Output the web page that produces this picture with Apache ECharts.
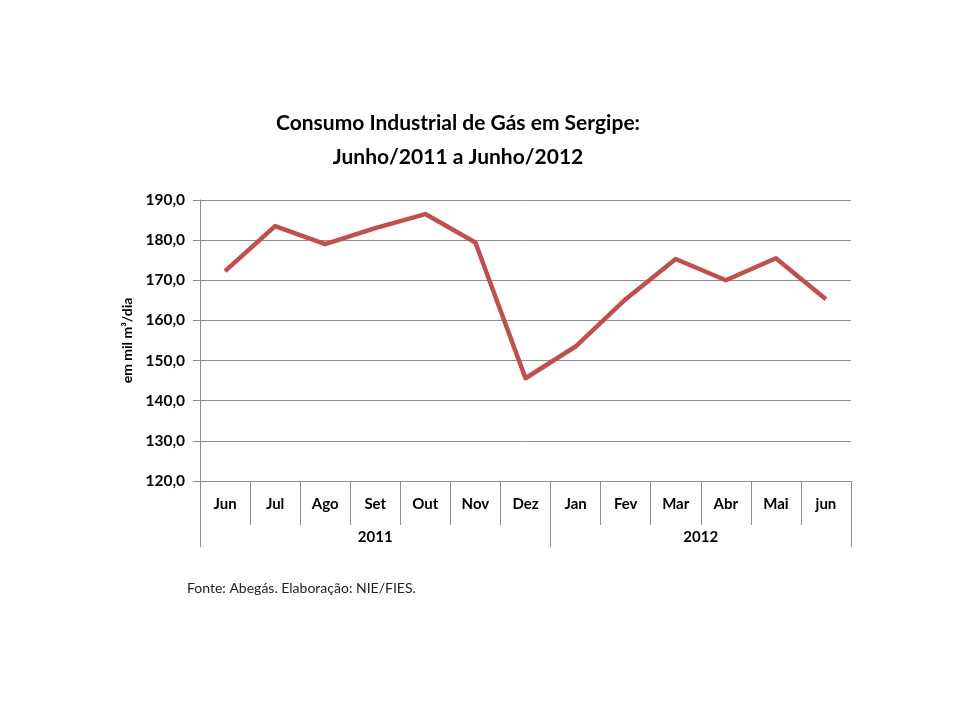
<!DOCTYPE html>
<html>
<head>
<meta charset="utf-8">
<script src="https://cdn.jsdelivr.net/npm/echarts@6/dist/echarts.min.js"></script>
<style>
  html, body { margin: 0; padding: 0; background: #fff; }
  #chart { width: 960px; height: 720px; }
</style>
</head>
<body>
<div id="chart"></div>
<script>
// dados do gráfico
const months = ['Jun', 'Jul', 'Ago', 'Set', 'Out', 'Nov', 'Dez', 'Jan', 'Fev', 'Mar', 'Abr', 'Mai', 'jun'];
const consumo = [172.3, 183.5, 179.0, 183.0, 186.5, 179.4, 145.6, 153.5, 165.3, 175.3, 170.0, 175.5, 165.3];
const years = ['2011', '2012'];
const yearSpans = [7, 6];

// limites e centros dos grupos de anos
const yearEdges = [0];
yearSpans.forEach((n, i) => yearEdges.push(yearEdges[i] + n));
const yearCenters = yearSpans.map((n, i) => yearEdges[i] + n / 2);

const font = 'Lato, "Open Sans", sans-serif';
const gray = '#8c8c8c';

const chart = echarts.init(document.getElementById('chart'));
chart.setOption({
    animation: false,
    backgroundColor: '#fff',
    title: [
        {
            text: 'Consumo Industrial de Gás em Sergipe:\nJunho/2011 a Junho/2012',
            left: 453,
            textAlign: 'center',
            top: 101,
            textStyle: { fontFamily: font, fontSize: 21, fontWeight: 'bold', color: '#000', lineHeight: 34 }
        },
        {
            text: 'Fonte: Abegás. Elaboração: NIE/FIES.',
            left: 182,
            top: 576,
            textStyle: { fontFamily: font, fontSize: 14, fontWeight: 'normal', color: '#222' }
        }
    ],
    grid: { left: 200, right: 109, top: 200, bottom: 239 },
    xAxis: [
        {
            type: 'category',
            data: months,
            boundaryGap: true,
            axisLine: { lineStyle: { color: gray, width: 1 } },
            axisTick: { show: true, interval: 0, length: 44, lineStyle: { color: gray } },
            axisLabel: { interval: 0, margin: 16, fontFamily: font, fontSize: 15, fontWeight: 'bold', color: '#000' },
            splitLine: { show: false }
        },
        {
            type: 'value',
            min: 0,
            max: months.length,
            position: 'bottom',
            axisLine: { show: false },
            axisTick: { show: true, customValues: yearEdges, length: 66, lineStyle: { color: gray } },
            axisLabel: {
                customValues: yearCenters,
                margin: 49,
                fontFamily: font, fontSize: 15, fontWeight: 'bold', color: '#000',
                formatter: (v) => years[yearCenters.indexOf(v)] || ''
            },
            splitLine: { show: false }
        }
    ],
    yAxis: {
        type: 'value',
        min: 120,
        max: 190,
        interval: 10,
        name: 'em mil m³/dia',
        nameLocation: 'middle',
        nameGap: 63,
        nameTextStyle: { fontFamily: font, fontSize: 14, fontWeight: 'bold', color: '#000' },
        axisLine: { show: true, lineStyle: { color: gray } },
        axisTick: { show: true, length: 7, lineStyle: { color: gray } },
        axisLabel: {
            margin: 15,
            fontFamily: font, fontSize: 15.5, fontWeight: 'bold', color: '#000',
            formatter: (v) => v.toFixed(1).replace('.', ',')
        },
        splitLine: { lineStyle: { color: gray, width: 1 } }
    },
    series: [
        {
            type: 'line',
            data: consumo,
            xAxisIndex: 0,
            showSymbol: false,
            symbol: 'none',
            lineStyle: { color: '#C0504D', width: 4.5, join: 'round' },
            itemStyle: { color: '#C0504D' }
        }
    ]
});
</script>
</body>
</html>
